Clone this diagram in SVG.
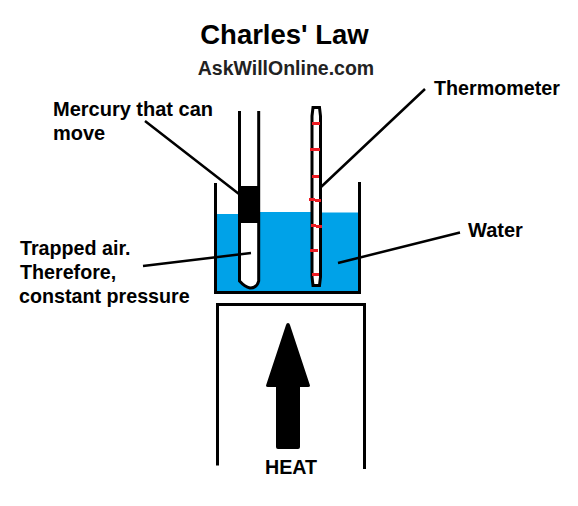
<svg xmlns="http://www.w3.org/2000/svg" width="578" height="506" viewBox="0 0 578 506">
<style>
text{font-family:"Liberation Sans",Arial,sans-serif;font-weight:700;fill:#000;font-size:19.700px}
.l{fill:none;stroke:#000;stroke-width:3}
.t{fill:none;stroke:#000;stroke-width:3}
.r{stroke:#ed1c24;stroke-width:3;fill:none}
.w{stroke:#00a2e8;stroke-width:3;fill:none}
</style>
<rect width="578" height="506" fill="#fff"/>
<g id="title">
<text x="284.500" y="44" text-anchor="middle" style="font-size:27.500px">Charles' Law</text>
<text x="286" y="75" text-anchor="middle" style="font-size:19.500px;fill:#222">AskWillOnline.com</text>
</g>
<g id="beaker">
<rect x="216" y="214" width="143" height="78" fill="#00a2e8"/>
<path class="w" d="M215 215.500H239M259 213.500H314M321 214H361"/>
<path class="l" d="M215.500 183V292.500H359.500V182"/>
</g>
<g id="air-tube">
<path d="M240 222H259V281Q256 288 250 288Q245 287 240 281Z" fill="#fff"/>
<path class="l" d="M239.500 111V281Q245 287 250 288Q257 288 258.700 281V111"/>
<rect x="238" y="186" width="22" height="37" fill="#000"/>
</g>
<g id="thermometer">
<path d="M312 116L313 107.500H319.500L320.500 116V277L319.500 285.500H313L312 277Z" fill="#fff"/>
<path class="t" d="M312 116L313 107.500H319.500L320.500 116V277L319.500 285.500H313L312 277Z"/>
<path class="r" d="M312 123.500H320M310 149.500H320M312 176.500H319M309 199.500L315 199.500M315 200.500H321M311 225.500L316 225.500M316 226.500H322M310 250.500H318M312 274.500H319"/>
</g>
<g id="heater">
<path class="l" d="M217.500 465.500V304.500H364.500V469"/>
<path d="M288 323Q289.500 323 290 325L310 385.500Q310 387 308 387H300V447Q300 449 298 449H278Q276 449 276 447V387H268Q266 387 266 385.500L286 325Q286.500 323 288 323Z" fill="#000"/>
<text x="291" y="474" text-anchor="middle">HEAT</text>
</g>
<g id="connectors">
<path class="l" d="M145 121L239 194M425 89L321 187M143 266L251 253M338 263L460 232.500" style="stroke-width:2.500"/>
</g>
<g id="labels">
<text x="53" y="116" style="font-size:20px">Mercury that can</text>
<text x="53" y="140" style="font-size:20px">move</text>
<text x="434" y="95">Thermometer</text>
<text x="468" y="237" style="font-size:20px">Water</text>
<text x="20" y="255">Trapped air.</text>
<text x="20" y="279">Therefore,</text>
<text x="19" y="303">constant pressure</text>
</g>
</svg>
